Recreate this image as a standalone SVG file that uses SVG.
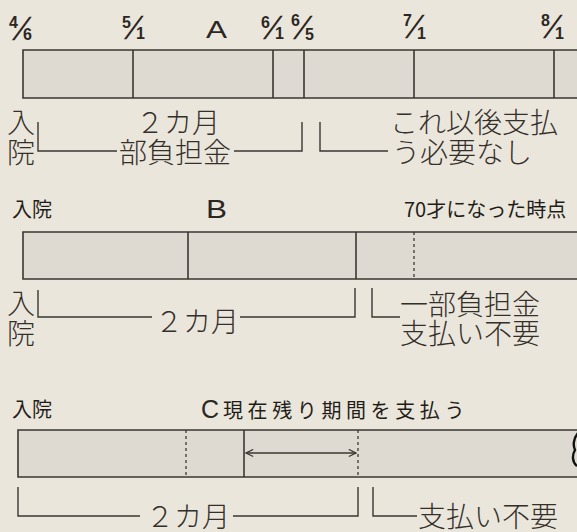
<svg xmlns="http://www.w3.org/2000/svg" width="577" height="532" viewBox="0 0 577 532">
<defs>
<style>
.bg{fill:#ebe6db}
.bar{fill:#dedad1;stroke:#3a3733;stroke-width:1.6}
.div{stroke:#3a3733;stroke-width:1.6;fill:none}
.dot{stroke:#3a3733;stroke-width:1.3;stroke-dasharray:3 3;fill:none}
.br{stroke:#3a3733;stroke-width:1.4;fill:none}
.big{font-family:"Noto Sans CJK JP","Noto Sans",sans-serif;font-size:28px;font-weight:300;fill:#33302c}
.sm{font-family:"Noto Sans CJK JP","Noto Sans",sans-serif;font-size:20px;font-weight:400;fill:#1f1d1a}
.lt{font-family:"Liberation Sans","DejaVu Sans",sans-serif;fill:#2a2724}
.num{font-family:"Liberation Sans","DejaVu Sans",sans-serif;font-size:16px;font-weight:bold;fill:#2a2724}
.sl{font-family:"Liberation Sans","DejaVu Sans",sans-serif;font-size:32px;fill:#2a2724}
</style>
<marker id="ah" viewBox="0 0 10 10" refX="9" refY="5" markerWidth="9" markerHeight="9" orient="auto-start-reverse" markerUnits="userSpaceOnUse">
<path d="M1,1 L9,5 L1,9" fill="none" stroke="#3a3733" stroke-width="1.3"/>
</marker>
</defs>
<rect class="bg" x="0" y="0" width="577" height="532"/>

<g id="sectionA">
<g id="A-bar">
<path class="bar" d="M580,50 H23 V98 H580"/>
<line class="div" x1="133" y1="50" x2="133" y2="98"/>
<line class="div" x1="273" y1="50" x2="273" y2="98"/>
<line class="div" x1="304" y1="50" x2="304" y2="98"/>
<line class="div" x1="414" y1="50" x2="414" y2="98"/>
<line class="div" x1="554" y1="50" x2="554" y2="98"/>
</g>
<g id="A-dates">
<text class="num" x="9" y="28">4</text><text class="sl" transform="translate(12,40) skewX(-25)">/</text><text class="num" x="23" y="40">6</text>
<text class="num" x="122" y="28">5</text><text class="sl" transform="translate(124,39) skewX(-25)">/</text><text class="num" x="136" y="39">1</text>
<text class="num" x="261" y="28">6</text><text class="sl" transform="translate(263,39) skewX(-25)">/</text><text class="num" x="275" y="39">1</text>
<text class="num" x="291" y="26">6</text><text class="sl" transform="translate(293,39) skewX(-25)">/</text><text class="num" x="305" y="40">5</text>
<text class="num" x="403" y="26">7</text><text class="sl" transform="translate(405,38) skewX(-25)">/</text><text class="num" x="417" y="39">1</text>
<text class="num" x="541" y="26">8</text><text class="sl" transform="translate(543,38) skewX(-25)">/</text><text class="num" x="555" y="39">1</text>
</g>
<text id="A-title" class="lt" x="206" y="38" font-size="23" textLength="21" lengthAdjust="spacingAndGlyphs">A</text>
<g id="A-labels">
<text class="big" x="7" y="133">入</text>
<text class="big" x="7" y="163">院</text>
<text class="big" x="136" y="133">２カ月</text>
<text class="big" x="119" y="163">部負担金</text>
<text class="big" x="390" y="133">これ以後支払</text>
<text class="big" x="392" y="163">う必要なし</text>
</g>
</g>

<g id="sectionB">
<text class="sm" x="12" y="217">入院</text>
<text class="lt" x="206" y="218" font-size="26" textLength="21" lengthAdjust="spacingAndGlyphs">B</text>
<text class="sm" x="404" y="217">70才になった時点</text>
<g id="B-bar">
<path class="bar" d="M580,232 H23 V279 H580"/>
<line class="div" x1="188" y1="232" x2="188" y2="279"/>
<line class="div" x1="356" y1="232" x2="356" y2="279"/>
<line class="dot" x1="414" y1="232" x2="414" y2="279"/>
</g>
<g id="B-labels">
<text class="big" x="7" y="314">入</text>
<text class="big" x="7" y="344">院</text>
<text class="big" x="155" y="332">２カ月</text>
<text class="big" x="400" y="315">一部負担金</text>
<text class="big" x="400" y="344">支払い不要</text>
</g>
</g>

<g id="sectionC">
<text class="sm" x="12" y="417">入院</text>
<text class="lt" x="201" y="418" font-size="25">C</text>
<text class="sm" x="223" y="418" font-size="21" letter-spacing="4.6">現在残り期間を支払う</text>
<g id="C-bar">
<path class="bar" d="M580,430 H18 V477 H580"/>
<line class="dot" x1="186" y1="430" x2="186" y2="477"/>
<line class="div" x1="244" y1="430" x2="244" y2="477"/>
<line class="dot" x1="358" y1="430" x2="358" y2="477"/>
<path d="M578,433 C573,439 573,446 575,450 C572,455 572,462 577,466" fill="none" stroke="#111" stroke-width="2.4"/>
</g>
<g id="C-labels">
<text class="big" x="146" y="527">２カ月</text>
<text class="big" x="418" y="527">支払い不要</text>
</g>
</g>

<g id="connectors">
<path class="br" d="M38,122 V151 H117"/>
<path class="br" d="M234,151 H302 V122"/>
<path class="br" d="M320,122 V151 H388"/>
<path class="br" d="M38,290 V317 H152"/>
<path class="br" d="M240,317 H355 V288"/>
<path class="br" d="M372,288 V317 H400"/>
<path class="br" d="M18,487 V516 H140"/>
<path class="br" d="M233,516 H358 V487"/>
<path class="br" d="M373,487 V516 H417"/>
<line class="br" x1="246" y1="453" x2="356" y2="453" marker-start="url(#ah)" marker-end="url(#ah)"/>
</g>
</svg>
